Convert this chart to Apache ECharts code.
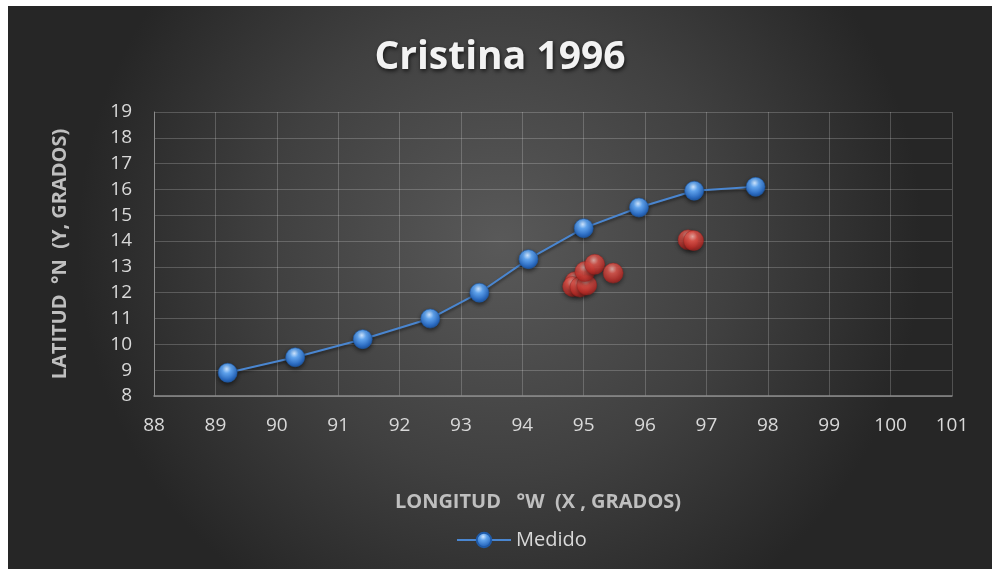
<!DOCTYPE html>
<html>
<head>
<meta charset="utf-8">
<script src="https://cdn.jsdelivr.net/npm/echarts@6/dist/echarts.min.js"></script>
<style>
  html, body { margin: 0; padding: 0; background: #ffffff; }
  #chart { position: absolute; left: 8px; top: 6px; width: 984px; height: 563px; }
</style>
</head>
<body>
<div id="chart"></div>
<script>
// Measured track (longitude °W, latitude °N)
const medidoLon = [89.2, 90.3, 91.4, 92.5, 93.3, 94.1, 95.0, 95.9, 96.8, 97.8];
const medidoLat = [8.9, 9.5, 10.2, 11.0, 12.0, 13.3, 14.5, 15.3, 15.95, 16.1];

// Additional positions cluster (unlabelled)
const otrosLon = [94.86, 94.82, 94.94, 95.05, 95.02, 95.18, 95.48, 96.70, 96.79];
const otrosLat = [12.43, 12.24, 12.22, 12.30, 12.82, 13.10, 12.76, 14.05, 14.02];

const xTicks = { min: 88, max: 101, step: 1 };
const yTicks = { min: 8, max: 19, step: 1 };

const pairs = (xs, ys) => xs.map((x, i) => [x, ys[i]]);

const blueBall = {
  type: 'radial', x: 0.45, y: 0.3, r: 0.75,
  colorStops: [
    { offset: 0, color: '#cfe6ff' },
    { offset: 0.3, color: '#5fa2ec' },
    { offset: 0.75, color: '#2a6ac0' },
    { offset: 1, color: '#1b4d92' }
  ]
};
const redBall = {
  type: 'radial', x: 0.45, y: 0.3, r: 0.75,
  colorStops: [
    { offset: 0, color: '#ffc2bb' },
    { offset: 0.3, color: '#ee5a50' },
    { offset: 0.75, color: '#c42f2a' },
    { offset: 1, color: '#8e1d1b' }
  ]
};

const font = "'Open Sans', 'Liberation Sans', sans-serif";

const chart = echarts.init(document.getElementById('chart'), null, { renderer: 'canvas' });
chart.setOption({
  backgroundColor: {
    type: 'radial', x: 0.5, y: 0.42, r: 0.75,
    colorStops: [
      { offset: 0, color: '#595959' },
      { offset: 0.55, color: '#404040' },
      { offset: 1, color: '#262626' }
    ]
  },
  animation: false,
  textStyle: { fontFamily: font },
  title: {
    text: 'Cristina 1996',
    left: 'center',
    top: 27,
    textStyle: {
      color: '#f2f2f2', fontSize: 39, fontWeight: 'bold', fontFamily: font,
      textShadowColor: 'rgba(0,0,0,0.7)', textShadowBlur: 4, textShadowOffsetX: 1, textShadowOffsetY: 2
    }
  },
  grid: { left: 146, right: 40, top: 106, bottom: 173, containLabel: false },
  xAxis: {
    type: 'value',
    min: xTicks.min, max: xTicks.max, interval: xTicks.step,
    name: 'LONGITUD   °W  (X , GRADOS)',
    nameLocation: 'middle', nameGap: 96,
    nameTextStyle: { color: '#bfbfbf', fontSize: 20, fontWeight: 'bold', fontFamily: font, padding: [0, 30, 0, 0] },
    axisLine: { show: true, lineStyle: { color: '#8c8c8c', width: 1.5 } },
    axisTick: { show: false },
    axisLabel: { color: '#d9d9d9', fontSize: 19, margin: 20, fontFamily: font },
    splitLine: { show: true, lineStyle: { color: 'rgba(255,255,255,0.2)', width: 1 } }
  },
  yAxis: {
    type: 'value',
    min: yTicks.min, max: yTicks.max, interval: yTicks.step,
    name: 'LATITUD  °N  (Y, GRADOS)',
    nameLocation: 'middle', nameGap: 84, nameRotate: 90,
    nameTextStyle: { color: '#bfbfbf', fontSize: 20, fontWeight: 'bold', fontFamily: font },
    axisLine: { show: true, lineStyle: { color: '#8c8c8c', width: 1 } },
    axisTick: { show: false },
    axisLabel: { color: '#d9d9d9', fontSize: 19, margin: 22, fontFamily: font },
    splitLine: { show: true, lineStyle: { color: 'rgba(255,255,255,0.2)', width: 1 } }
  },
  legend: {
    bottom: 14, left: 443,
    data: ['Medido'],
    itemWidth: 54, itemHeight: 18, itemGap: 6,
    textStyle: { color: '#d9d9d9', fontSize: 20, fontFamily: font }
  },
  series: [
    {
      name: 'Medido',
      type: 'line',
      data: pairs(medidoLon, medidoLat),
      symbol: 'circle',
      symbolSize: 19,
      showAllSymbol: true,
      lineStyle: { color: '#4a86d0', width: 2,
        shadowColor: 'rgba(0,0,0,0.5)', shadowBlur: 3, shadowOffsetY: 2 },
      itemStyle: { color: blueBall, borderColor: '#1f5aa8', borderWidth: 0.6,
        shadowColor: 'rgba(0,0,0,0.55)', shadowBlur: 4, shadowOffsetY: 2 },
      z: 3
    },
    {
      name: 'Otros',
      type: 'scatter',
      data: pairs(otrosLon, otrosLat),
      symbol: 'circle',
      symbolSize: 20,
      itemStyle: { color: redBall, borderColor: '#9b2320', borderWidth: 0.6,
        shadowColor: 'rgba(0,0,0,0.55)', shadowBlur: 4, shadowOffsetY: 2 },
      z: 4
    }
  ]
});
</script>
</body>
</html>
